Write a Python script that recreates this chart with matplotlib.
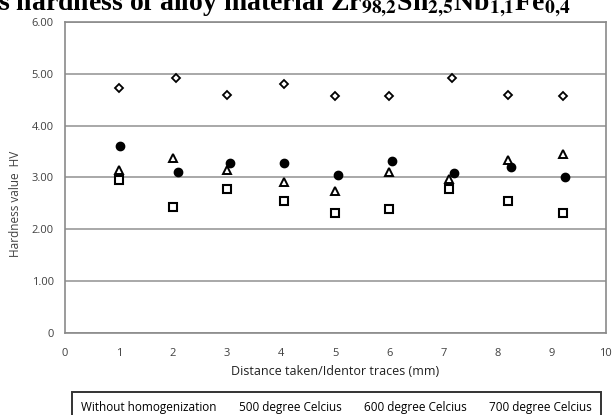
import matplotlib
matplotlib.use('Agg')
import matplotlib.pyplot as plt
from matplotlib.lines import Line2D

# traces along the sample (mm)
x_diamond = [1.0, 2.05, 3.0, 4.05, 5.0, 6.0, 7.15, 8.2, 9.2]
hv_diamond = [4.72, 4.92, 4.60, 4.80, 4.57, 4.57, 4.92, 4.60, 4.57]

x_filled = [1.02, 2.1, 3.05, 4.05, 5.05, 6.05, 7.2, 8.25, 9.25]
hv_filled = [3.60, 3.11, 3.28, 3.28, 3.05, 3.31, 3.08, 3.20, 3.00]

x_tri = [1.0, 2.0, 3.0, 4.05, 5.0, 6.0, 7.1, 8.2, 9.2]
hv_tri = [3.15, 3.37, 3.14, 2.92, 2.74, 3.11, 2.97, 3.34, 3.46]

x_square = [1.0, 2.0, 3.0, 4.05, 5.0, 6.0, 7.1, 8.2, 9.2]
hv_square = [2.95, 2.42, 2.78, 2.54, 2.31, 2.39, 2.78, 2.54, 2.31]

legend_labels = ['Without homogenization', '500 degree Celcius',
                 '600 degree Celcius', '700 degree Celcius']
y_ticks = [0, 1, 2, 3, 4, 5, 6]
y_ticklabels = ['0', '1.00', '2.00', '3.00', '4.00', '5.00', '6.00']
x_ticks = list(range(0, 11))

plt.rcParams['font.family'] = ['Open Sans', 'DejaVu Sans']
plt.rcParams['mathtext.fontset'] = 'stix'
grey = '#404040'

fig = plt.figure(figsize=(6.12, 4.15), dpi=100)
ax = fig.add_axes([0.106, 0.198, 0.884, 0.749])

ax.plot(x_diamond, hv_diamond, linestyle='none', marker='D', markersize=4.5,
        markerfacecolor='white', markeredgecolor='black', markeredgewidth=1.3)
ax.plot(x_filled, hv_filled, linestyle='none', marker='o', markersize=6,
        color='black')
ax.plot(x_tri, hv_tri, linestyle='none', marker='^', markersize=6,
        markerfacecolor='white', markeredgecolor='black', markeredgewidth=1.4)
ax.plot(x_square, hv_square, linestyle='none', marker='s', markersize=6,
        markerfacecolor='white', markeredgecolor='black', markeredgewidth=1.5)

ax.set_xlim(0, 10)
ax.set_ylim(0, 6)
ax.set_yticks(y_ticks)
ax.set_yticklabels(y_ticklabels)
ax.set_xticks(x_ticks)
ax.tick_params(length=0, labelsize=8, colors=grey)
ax.tick_params(axis='x', pad=11)
ax.tick_params(axis='y', pad=8)
ax.yaxis.grid(True, color='#9a9a9a', linewidth=1.2)
ax.set_axisbelow(True)
for s in ax.spines.values():
    s.set_color('#8a8a8a')
    s.set_linewidth(1.2)

ax.set_ylabel('Hardness value  HV', fontsize=8.5, color=grey, labelpad=9)
ax.yaxis.set_label_coords(-0.08, 0.415)
ax.set_xlabel('Distance taken/Identor traces (mm)', fontsize=9, color='#202020',
              labelpad=4)

handles = [Line2D([], [], linestyle='none') for _ in legend_labels]
leg = fig.legend(handles, legend_labels, loc='upper left', ncol=4,
                 bbox_to_anchor=(0.118, 0.0554), handlelength=0, handletextpad=0,
                 columnspacing=1.9, fontsize=8.5, frameon=True, fancybox=False,
                 borderpad=0.75, borderaxespad=0)
leg.get_frame().set_edgecolor('black')
leg.get_frame().set_linewidth(1.4)

# title is cropped at the top edge in the source figure
fig.text(-0.004, 0.975,
         r's hardness of alloy material Zr$_{\mathbf{98{,}2}}$Sn$_{\mathbf{2{,}5}}$'
         r'Nb$_{\mathbf{1{,}1}}$Fe$_{\mathbf{0{,}4}}$',
         fontsize=20, fontweight='bold', family='Liberation Serif',
         va='baseline', ha='left')

fig.savefig('out.png', dpi=100)
